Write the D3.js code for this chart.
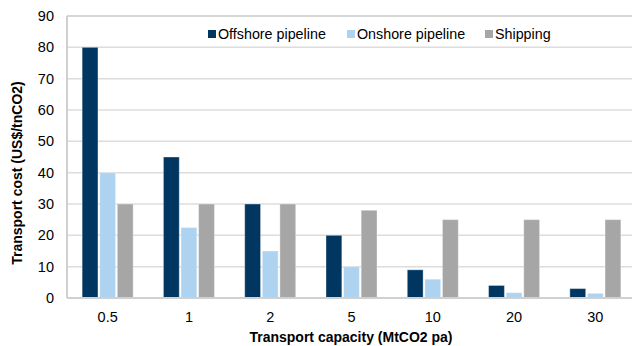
<!DOCTYPE html>
<html><head><meta charset="utf-8">
<script src="https://cdn.jsdelivr.net/npm/d3@7"></script>
<style>body{margin:0;background:#fff}svg{display:block;font-family:"Liberation Sans",Arial,sans-serif}</style>
</head><body><svg id="c" width="632" height="346"></svg>
<script>
const categories = ["0.5","1","2","5","10","20","30"];
const seriesNames = ["Offshore pipeline","Onshore pipeline","Shipping"];
const offshore = [80,45,30,20,9,4,3];
const onshore = [40,22.5,15,10,6,1.7,1.5];
const shipping = [30,30,30,28,25,25,25];
const yTicks = [0,10,20,30,40,50,60,70,80,90];
const colors = ["#003660","#aed3f0","#a6a6a6"];
const series = [offshore, onshore, shipping];

const svg = d3.select("#c");
const L = 67, R = 636, T = 16, B = 298;
const x = d3.scaleBand().domain(categories).range([L, R]).padding(0);
const y = d3.scaleLinear().domain([0, 90]).range([B, T]);
const inner = d3.scaleBand().domain(d3.range(3)).range([0, 51]).paddingInner(0.1);
const FONT = "Liberation Sans, Arial, sans-serif";

// gridlines
svg.append("g").selectAll("line").data(yTicks.slice(1)).join("line")
  .attr("x1", L).attr("x2", R).attr("y1", d => y(d)).attr("y2", d => y(d))
  .attr("stroke", d => d === 90 ? "#c8c8c8" : "#dcdcdc").attr("stroke-width", 1.5);

// bars
const g = svg.append("g");
series.forEach((vals, si) => {
  g.append("g").selectAll("rect").data(vals).join("rect")
    .attr("x", (d, i) => x(categories[i]) + (x.bandwidth() - 51) / 2 + inner(si))
    .attr("y", d => y(d))
    .attr("width", inner.bandwidth())
    .attr("height", d => B - y(d))
    .attr("fill", colors[si])
    .attr("stroke", "#ffffff").attr("stroke-opacity", 0.35).attr("stroke-width", 1);
});

// axes lines
svg.append("line").attr("x1", L).attr("x2", R).attr("y1", B).attr("y2", B).attr("stroke", "#d0d0d0").attr("stroke-width", 2);
svg.append("line").attr("x1", L).attr("x2", L).attr("y1", T).attr("y2", B).attr("stroke", "#d0d0d0").attr("stroke-width", 2);

// y axis labels
const yAxis = d3.axisLeft(y).tickValues(yTicks).tickSize(0).tickPadding(13);
const ya = svg.append("g").attr("transform", `translate(${L},0)`).call(yAxis);
ya.select(".domain").remove();
ya.selectAll("text").attr("font-size", 14.5).attr("fill", "#000").attr("font-family", FONT);

// x axis labels
const xAxis = d3.axisBottom(x).tickSize(0).tickPadding(14);
const xa = svg.append("g").attr("transform", `translate(0,${B})`).call(xAxis);
xa.select(".domain").remove();
xa.selectAll("text").attr("font-size", 14.5).attr("fill", "#000").attr("font-family", FONT);

// titles
svg.append("text").attr("x", 351).attr("y", 342).attr("text-anchor", "middle")
  .attr("font-size", 14).attr("font-weight", "bold").text("Transport capacity (MtCO2 pa)");
svg.append("text").attr("transform", "translate(22,173) rotate(-90)").attr("text-anchor", "middle")
  .attr("font-size", 14).attr("font-weight", "bold").text("Transport cost (US$/tnCO2)");

// legend
const legX = [208, 347, 485];
const lg = svg.append("g");
seriesNames.forEach((n, i) => {
  lg.append("rect").attr("x", legX[i]).attr("y", 30).attr("width", 8).attr("height", 8).attr("fill", colors[i]);
  lg.append("text").attr("x", legX[i] + 10).attr("y", 39).attr("font-size", 14.3).attr("fill", "#000").text(n);
});
</script></body></html>
